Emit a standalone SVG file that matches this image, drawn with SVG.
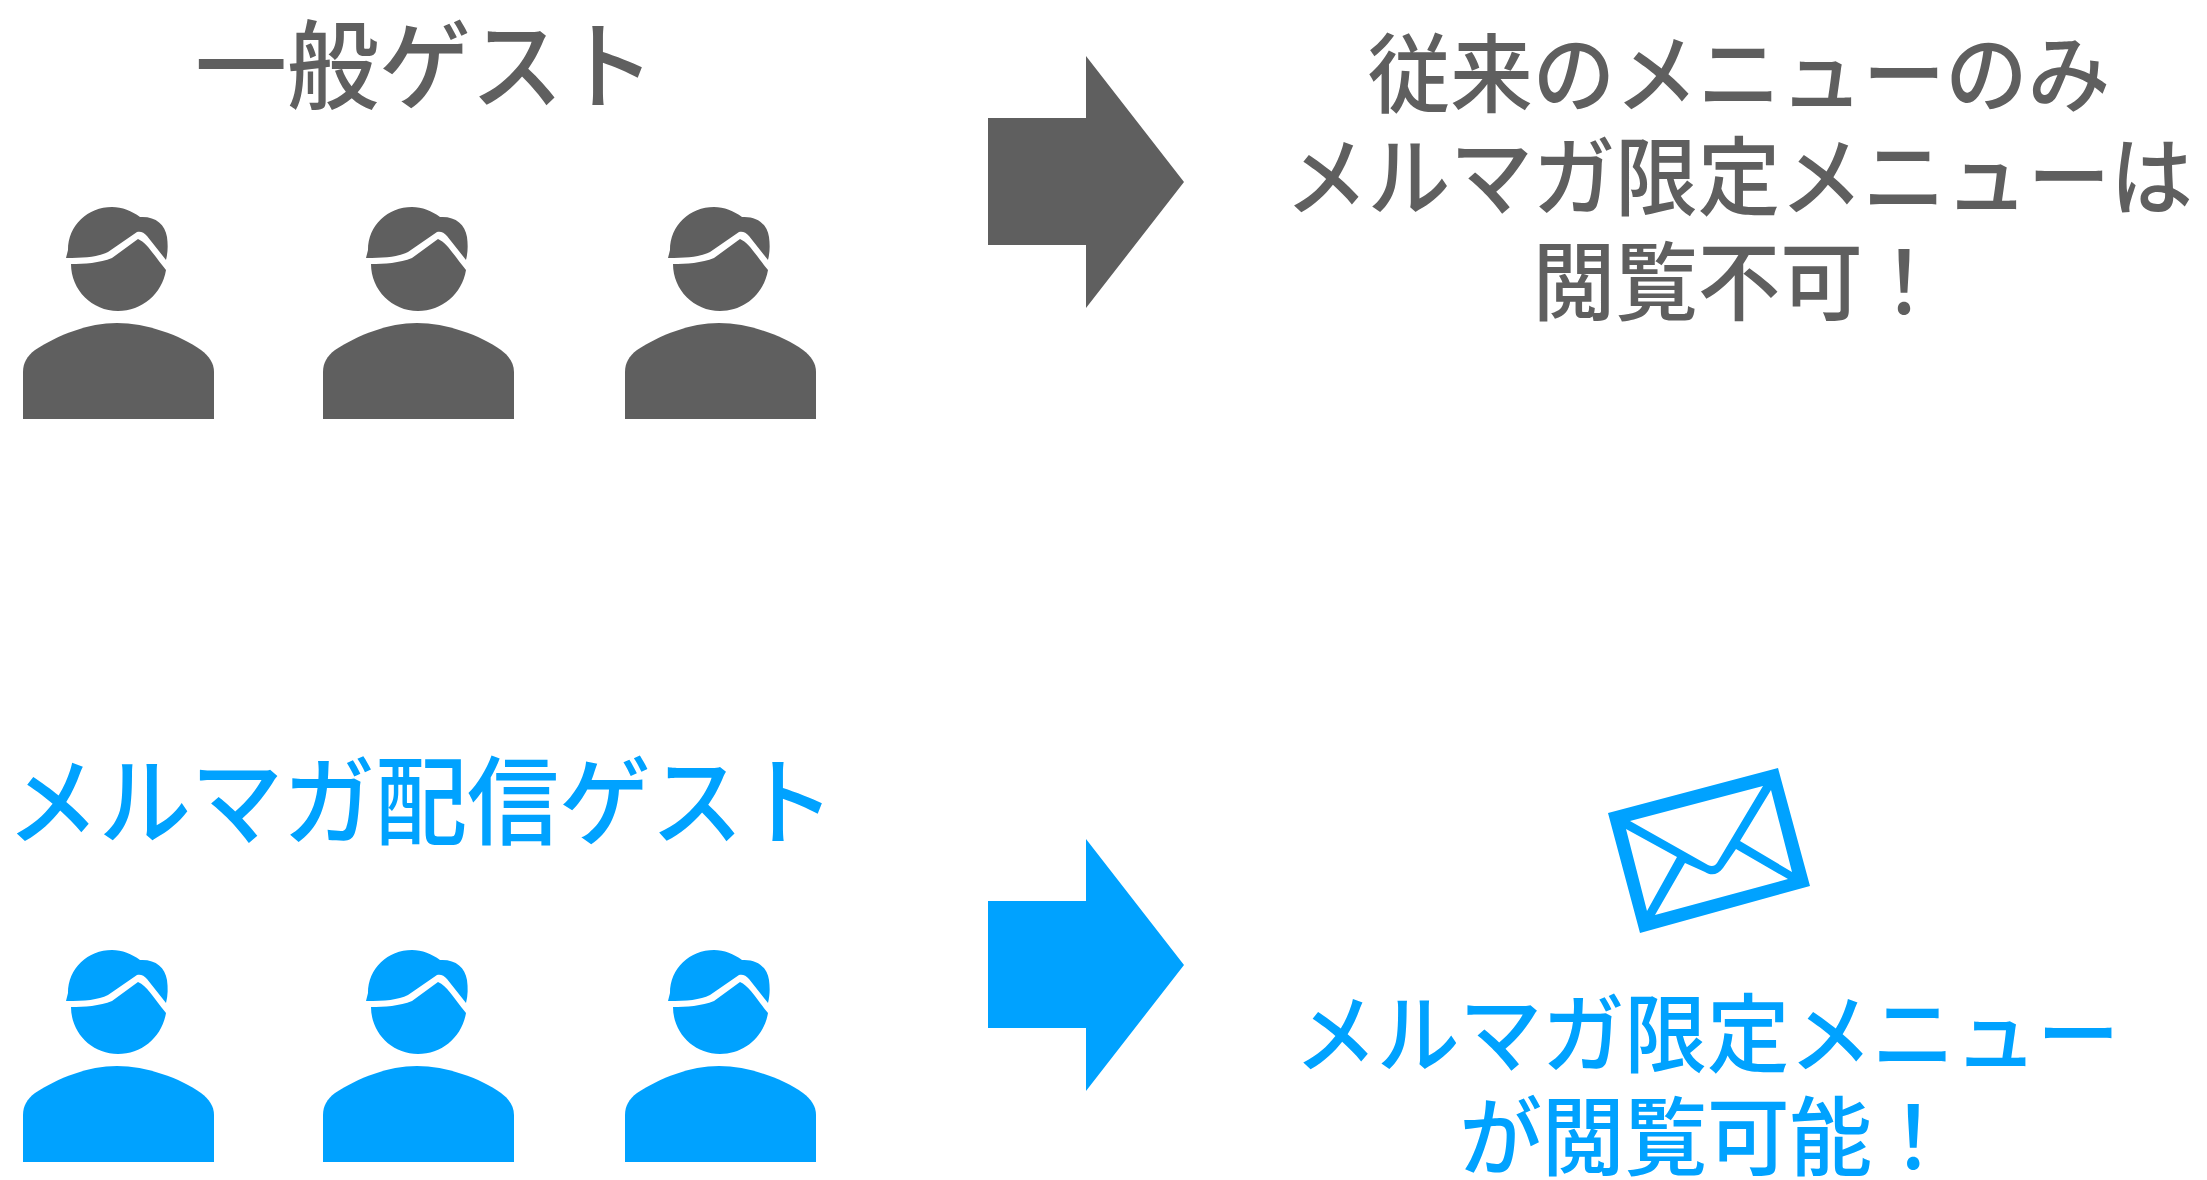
<svg xmlns="http://www.w3.org/2000/svg" width="2207" height="1180" viewBox="0 0 2207 1180">
<style>
text{font-family:"Noto Sans CJK JP","Noto Sans",sans-serif;text-anchor:middle;font-weight:500}
.g{fill:#5f5f5f}.b{fill:#00a2ff}
.t{font-size:92px}.m{font-size:82.5px}
</style>
<defs>
<g id="person">
<path d="M23 419V372C23 363 27 356 35 350C58 335 88 323 117 323C146 323 180 335 201 350C209 356 214 363 214 372V419Z"/>
<path d="M71 264C84 264 100 263 112 258L138 239C147 243 153 254 166 270C162 294 142 311 118 311C92 311 71 290 71 264Z"/>
<path d="M66 258L68 250C68 225 88 207 112 207C122 207 132 211 140 217C155 216 165 224 167 237C168 245 168 252 166 260L147 236C144 232 140 231 137 232L108 252C98 257 85 258 66 258Z"/>
</g>
</defs>
<g id="connectors">
<path id="arrow-top" class="g" d="M988 118H1086V56L1184 182L1086 308V245H988Z"/>
<path id="arrow-bottom" class="b" d="M988 901H1086V839L1184 965L1086 1091V1028H988Z"/>
</g>
<g id="guest-label"><text class="t g" transform="translate(425 101) scale(1 1.05)">一般ゲスト</text></g>
<g id="guest-1" class="g"><use href="#person"/></g>
<g id="guest-2" class="g"><use href="#person" x="300"/></g>
<g id="guest-3" class="g"><use href="#person" x="602"/></g>
<g id="guest-result"><text class="m g" transform="translate(1739 106) scale(1 1.05)">従来のメニューのみ</text><text class="m g" transform="translate(1739 209) scale(1 1.05)">メルマガ限定メニューは</text><text class="m g" transform="translate(1739 314) scale(1 1.05)">閲覧不可！</text></g>
<g id="subscriber-label"><text class="t b" transform="translate(421 837) scale(1 1.05)">メルマガ配信ゲスト</text></g>
<g id="subscriber-1" class="b"><use href="#person" y="743"/></g>
<g id="subscriber-2" class="b"><use href="#person" x="300" y="743"/></g>
<g id="subscriber-3" class="b"><use href="#person" x="602" y="743"/></g>
<g id="mail" class="b"><path fill-rule="evenodd" d="M1608 813L1778 768L1810 886L1640 933ZM1630 821L1708 865C1712 867 1715 866 1717 863L1763 786ZM1626 829L1647 911L1677 857ZM1771 790L1740 841L1792 872ZM1685 863L1655 915L1788 879L1736 849L1723 868C1718 875 1711 876 1705 872Z"/></g>
<g id="subscriber-result"><text class="m b" transform="translate(1707 1066) scale(1 1.05)">メルマガ限定メニュー</text><text class="m b" transform="translate(1707 1169) scale(1 1.05)">が閲覧可能！</text></g>
</svg>
